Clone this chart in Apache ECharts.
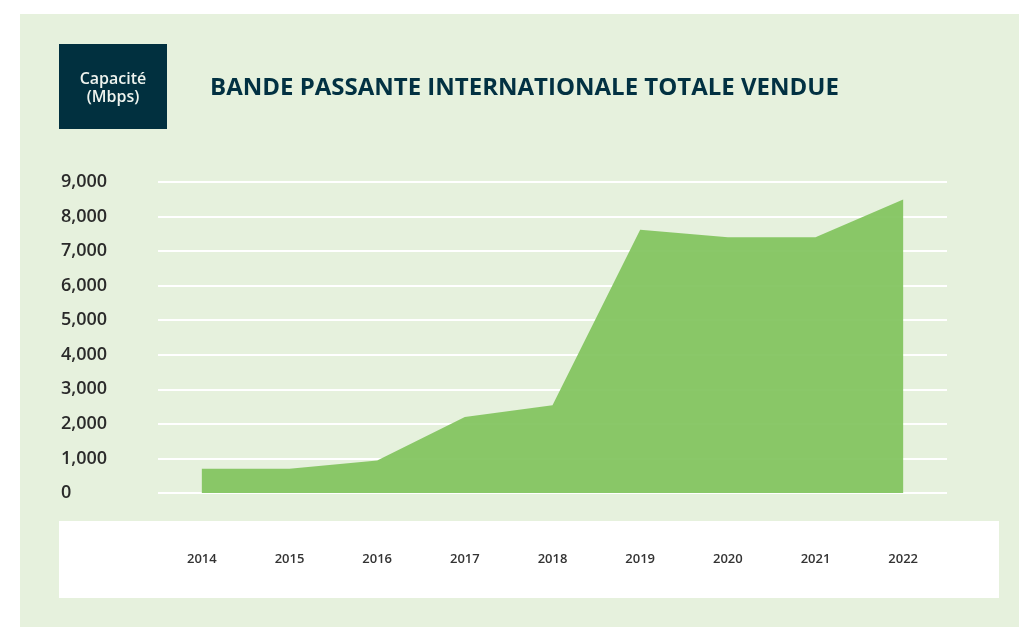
<!DOCTYPE html>
<html>
<head>
<meta charset="utf-8">
<script src="https://cdn.jsdelivr.net/npm/echarts@6/dist/echarts.min.js"></script>
<style>
html,body{margin:0;padding:0;background:#ffffff;}
#c{width:1019px;height:627px;}
</style>
</head>
<body>
<div id="c"></div>
<script>
const categories = ['2014','2015','2016','2017','2018','2019','2020','2021','2022'];
const capacity = [700, 700, 940, 2200, 2540, 7620, 7400, 7400, 8490];
const yTicks = { min: 0, max: 9000, interval: 1000 };
const titleText = 'BANDE PASSANTE INTERNATIONALE TOTALE VENDUE';
const unitText = 'Capacité\n(Mbps)';

const chart = echarts.init(document.getElementById('c'), null, {renderer: 'canvas'});
chart.setOption({
  backgroundColor: '#ffffff',
  animation: false,
  grid: { left: 158, right: 72, top: 182, bottom: 134, containLabel: false },
  graphic: [
    { type: 'rect', z: -10, silent: true, shape: { x: 20, y: 14, width: 999, height: 613 }, style: { fill: '#e6f1dd' } },
    { type: 'rect', z: -9, silent: true, shape: { x: 59, y: 521, width: 940, height: 77 }, style: { fill: '#ffffff' } },
    { type: 'rect', z: -9, silent: true, shape: { x: 59, y: 44, width: 108, height: 85 }, style: { fill: '#01303f' } },
    { type: 'text', z: 10, silent: true, x: 113, y: 88.5, style: { text: unitText, fill: '#eef3ee', font: '600 16px "Open Sans"', align: 'center', verticalAlign: 'middle', lineHeight: 18 } },
    { type: 'text', z: 10, silent: true, x: 210, y: 88, style: { text: titleText, fill: '#023142', font: 'bold 24px "Open Sans"', align: 'left', verticalAlign: 'middle' } }
  ],
  xAxis: {
    type: 'category',
    data: categories,
    boundaryGap: true,
    axisLine: { show: false },
    axisTick: { show: false },
    axisLabel: { margin: 60, color: '#333333', fontFamily: 'Open Sans', fontWeight: 600, fontSize: 13, verticalAlign: 'top' }
  },
  yAxis: {
    type: 'value',
    min: yTicks.min, max: yTicks.max, interval: yTicks.interval,
    axisLine: { show: false },
    axisTick: { show: false },
    splitLine: { lineStyle: { color: '#ffffff', width: 2 } },
    axisLabel: {
      align: 'left', margin: 97, color: '#2a2a2a', fontFamily: 'Open Sans', fontWeight: 600, fontSize: 18,
      formatter: v => v.toLocaleString('en-US')
    }
  },
  series: [{
    type: 'line',
    data: capacity,
    symbol: 'none',
    lineStyle: { width: 0 },
    areaStyle: { color: '#81c45e', opacity: 0.93 }
  }]
});
</script>
</body>
</html>
